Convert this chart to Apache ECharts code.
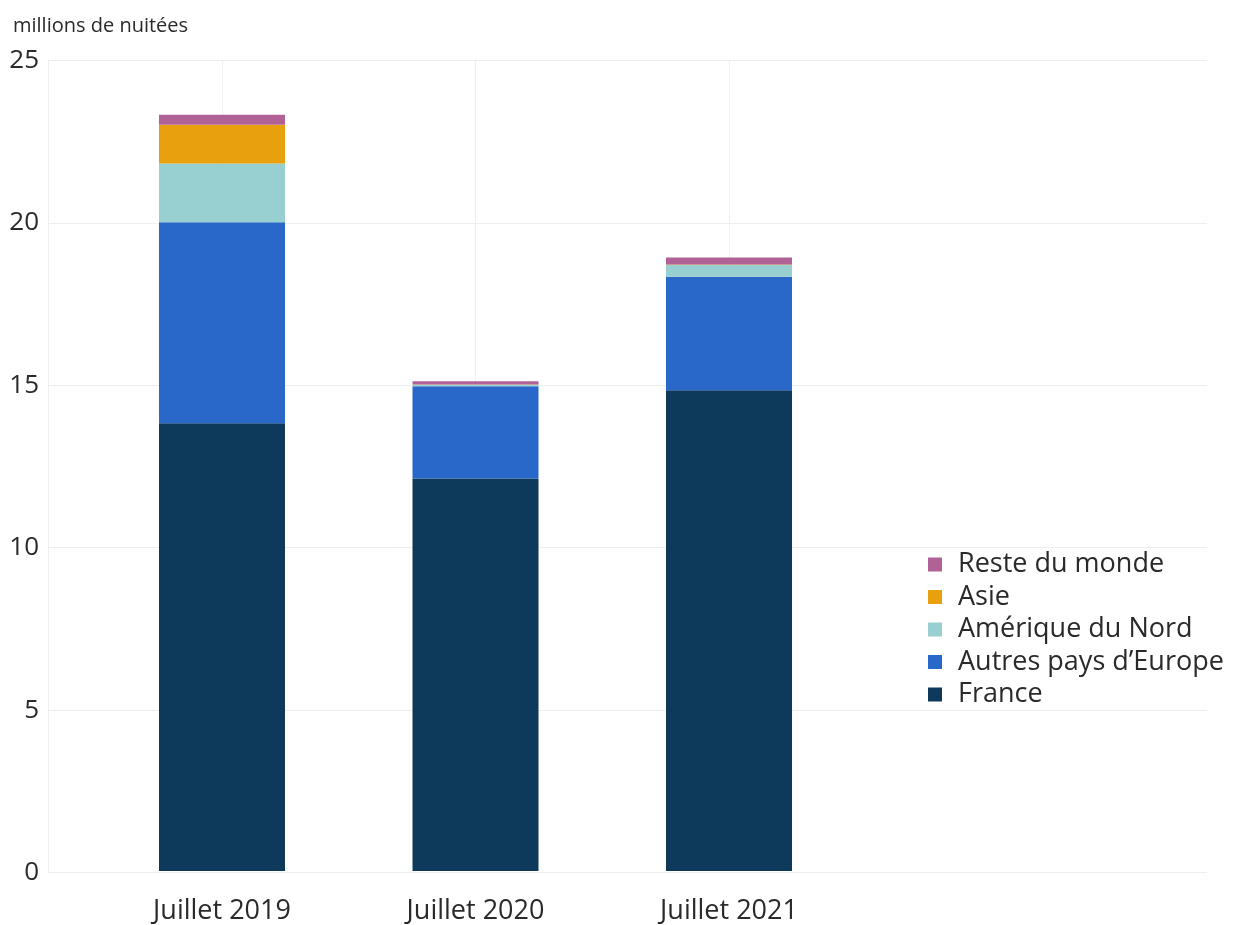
<!DOCTYPE html>
<html>
<head>
<meta charset="utf-8">
<script src="https://cdn.jsdelivr.net/npm/echarts@6/dist/echarts.min.js"></script>
<style>
html,body{margin:0;padding:0;background:#fff;}
#chart{width:1233px;height:925px;}
</style>
</head>
<body>
<div id="chart"></div>
<script>
const categories = ['Juillet 2019', 'Juillet 2020', 'Juillet 2021'];
const france = [13.81, 12.11, 14.83];
const autresEurope = [6.20, 2.84, 3.50];
const ameriqueNord = [1.81, 0.05, 0.36];
const asie = [1.20, 0.01, 0.02];
const resteMonde = [0.31, 0.10, 0.21];
const yTicks = [0, 5, 10, 15, 20, 25];

const FONT = 'Open Sans';
const TXT = '#2a2a2a';
const GRID_C = '#efefef';

const chart = echarts.init(document.getElementById('chart'), null, {renderer: 'canvas'});

function bar(name, data, color) {
  return {
    name: name, type: 'bar', stack: 'total', data: data,
    xAxisIndex: 1, yAxisIndex: 1, barWidth: 126, clip: false,
    itemStyle: {color: color}, emphasis: {disabled: true}
  };
}

chart.setOption({
  animation: false,
  backgroundColor: '#ffffff',
  textStyle: {fontFamily: FONT},
  title: {
    text: 'millions de nuitées', left: 8, top: 11,
    textStyle: {fontFamily: FONT, fontSize: 20, fontWeight: 'normal', color: TXT}
  },
  legend: {
    orient: 'vertical', left: 923, top: 546,
    itemWidth: 14, itemHeight: 14, itemGap: 5.5,
    icon: 'rect',
    data: ['Reste du monde', 'Asie', 'Amérique du Nord', 'Autres pays d\u2019Europe', 'France'],
    textStyle: {fontFamily: FONT, fontSize: 27, color: TXT, padding: [0, 0, 0, 11]}
  },
  grid: [
    {left: 48, right: 26, top: 60.5, bottom: 52.5},
    {left: 222, right: 504, top: 60.5, bottom: 52.5}
  ],
  xAxis: [
    {gridIndex: 0, type: 'value', min: 0, max: 1, show: false},
    {
      gridIndex: 1, type: 'category', data: categories, boundaryGap: false,
      axisLine: {show: false}, axisTick: {show: false},
      axisLabel: {fontFamily: FONT, fontSize: 27, color: TXT, margin: 27},
      splitLine: {show: true, lineStyle: {color: GRID_C, width: 1}}
    }
  ],
  yAxis: [
    {
      gridIndex: 0, type: 'value', min: yTicks[0], max: yTicks[yTicks.length - 1], interval: 5,
      axisLine: {show: true, lineStyle: {color: GRID_C}}, axisTick: {show: false},
      axisLabel: {fontFamily: FONT, fontSize: 26, color: TXT, margin: 9},
      splitLine: {show: true, lineStyle: {color: GRID_C, width: 1}}
    },
    {
      gridIndex: 1, type: 'value', min: 0, max: 25, interval: 5, show: false,
      splitLine: {show: false}
    }
  ],
  series: [
    bar('France', france, '#0d3a5b'),
    bar('Autres pays d\u2019Europe', autresEurope, '#2968c8'),
    bar('Amérique du Nord', ameriqueNord, '#98cfd0'),
    bar('Asie', asie, '#e8a00c'),
    bar('Reste du monde', resteMonde, '#b06296')
  ]
});
</script>
</body>
</html>
